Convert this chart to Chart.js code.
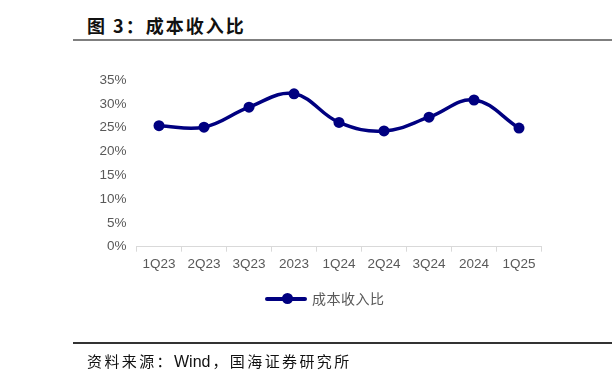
<!DOCTYPE html>
<html>
<head>
<meta charset="utf-8">
<script src="https://cdn.jsdelivr.net/npm/chart.js@4"></script>
<style>
  html, body { margin: 0; padding: 0; background: #fff; }
  body { width: 612px; height: 381px; position: relative; overflow: hidden; }
  #chart-box { position: absolute; left: 0; top: 0; width: 612px; height: 381px; }
  .title {
    position: absolute; left: 87px; top: 12px;
    font: bold 18px "Noto Sans CJK SC", sans-serif; letter-spacing: 2px; color: #111;
    white-space: nowrap;
  }
  .rule-top { position: absolute; left: 73px; right: 0; top: 39px; height: 2px; background: #7f7f7f; }
  .rule-bottom { position: absolute; left: 73px; right: 0; top: 342px; height: 2px; background: #333; }
  .source {
    position: absolute; left: 87px; top: 350px;
    font: 15px "Noto Sans CJK SC", sans-serif; letter-spacing: 2.4px; color: #111; white-space: nowrap;
  }
  .source .en { font-family: "Liberation Sans", Arial, sans-serif; font-size: 16px; letter-spacing: 0; margin-right: 2px; }
  .legend { position: absolute; left: 265px; top: 289px; height: 18px; white-space: nowrap; }
  .legend .ln { position: absolute; left: 0; top: 7.5px; width: 42px; height: 4px; background: #000080; border-radius: 2px; }
  .legend .dot { position: absolute; left: 17px; top: 4px; width: 11px; height: 11px; border-radius: 50%; background: #000080; }
  .legend .txt { position: absolute; left: 47px; top: -1px; font: 14px "Noto Sans CJK SC", sans-serif; color: #595959; letter-spacing: 0.5px; }
</style>
</head>
<body>
<div class="title">图 3：成本收入比</div>
<div class="rule-top"></div>
<div id="chart-box"><canvas id="ratio-chart"></canvas></div>
<div class="legend"><span class="ln"></span><span class="dot"></span><span class="txt">成本收入比</span></div>
<div class="rule-bottom"></div>
<div class="source">资料来源：<span class="en">Wind</span>，国海证券研究所</div>

<script>
// 数据：成本收入比 (%)
const periods = ["1Q23", "2Q23", "3Q23", "2023", "1Q24", "2Q24", "3Q24", "2024", "1Q25"];
const costIncomeRatio = [25.4, 25.1, 29.3, 32.1, 26.1, 24.3, 27.2, 30.8, 24.9];
const yTicks = [0, 5, 10, 15, 20, 25, 30, 35];

const tickFont = { family: "'Liberation Sans', Arial, sans-serif", size: 13.5 };
const axisGray = "#d9d9d9";

new Chart(document.getElementById("ratio-chart"), {
  type: "line",
  data: {
    labels: periods,
    datasets: [{
      label: "成本收入比",
      data: costIncomeRatio,
      borderColor: "#000080",
      backgroundColor: "#000080",
      borderWidth: 3.5,
      pointRadius: 5.5,
      pointHoverRadius: 5.5,
      pointBorderWidth: 0,
      tension: 0.4,
      fill: false
    }]
  },
  options: {
    responsive: true,
    maintainAspectRatio: false,
    animation: false,
    layout: { padding: { left: 60, right: 70.5, top: 80, bottom: 104.3 } },
    plugins: {
      legend: { display: false },
      tooltip: { enabled: false }
    },
    scales: {
      x: {
        offset: true,
        grid: { display: true, offset: true, drawOnChartArea: false, drawTicks: true, tickLength: 5, color: axisGray },
        border: { display: true, color: axisGray, width: 1 },
        ticks: { color: "#595959", font: tickFont, padding: 4, maxRotation: 0, autoSkip: false },
        afterFit: s => { s.height = 30; }
      },
      y: {
        min: 0,
        max: 35,
        afterBuildTicks: s => { s.ticks = yTicks.map(v => ({ value: v })); },
        grid: { display: false, drawTicks: false },
        border: { display: false },
        ticks: { color: "#595959", font: tickFont, padding: 10, callback: v => v + "%" },
        afterFit: s => { s.width = 76.5; }
      }
    }
  }
});
</script>
</body>
</html>
